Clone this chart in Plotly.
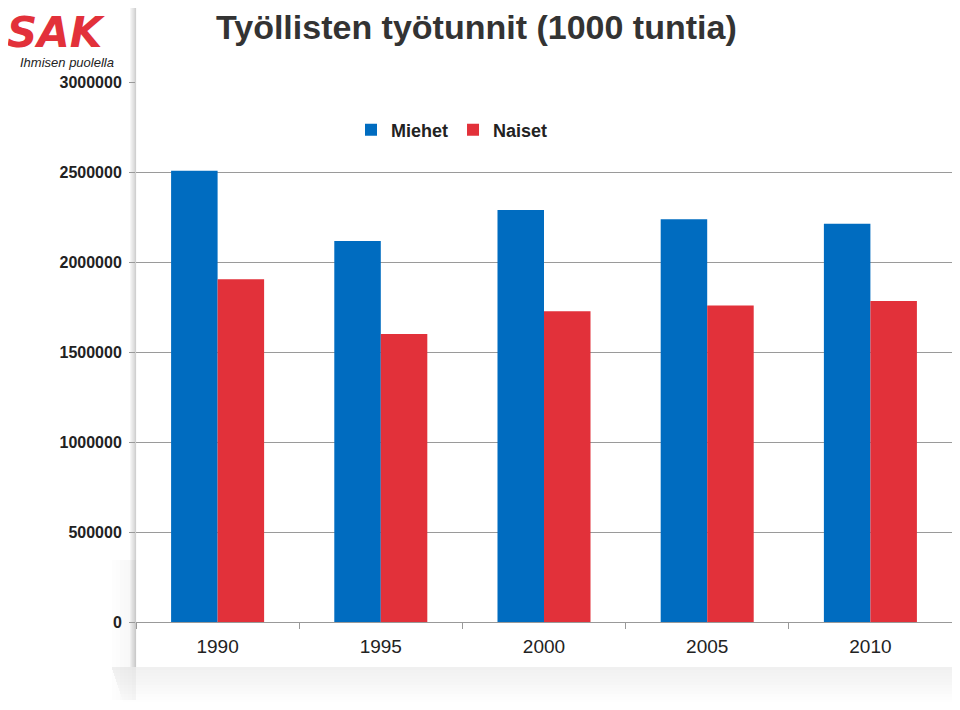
import plotly.graph_objects as go

years = ["1990", "1995", "2000", "2005", "2010"]
miehet = [2507000, 2117000, 2289000, 2237000, 2213000]
naiset = [1904000, 1600000, 1726000, 1759000, 1783000]
y_ticks = [0, 500000, 1000000, 1500000, 2000000, 2500000, 3000000]

BLUE = "#006CC0"
RED = "#E2313A"
FONT = "Liberation Sans, Arial, sans-serif"

# page body has an 8px margin; figure sized so the page does not scroll
W, H = 944, 694
L, T, B, R = 128, 74, 80, 0
PW = W - L - R  # plot width in px
PH = H - T - B  # plot height in px


def px(xabs):
    return (xabs - 8 - L) / PW


def py(yabs):
    return (H - B - (yabs - 8)) / PH


fig = go.Figure()
fig.add_trace(go.Bar(name="Miehet", x=years, y=miehet, marker=dict(color=BLUE, line=dict(width=0))))
fig.add_trace(go.Bar(name="Naiset", x=years, y=naiset, marker=dict(color=RED, line=dict(width=0))))

fig.update_layout(
    width=W, height=H,
    margin=dict(l=L, r=R, t=T, b=B, pad=0),
    paper_bgcolor="white", plot_bgcolor="white",
    barmode="group", bargap=0.43, bargroupgap=0,
    font=dict(family=FONT, color="#222"),
    showlegend=True,
    legend=dict(orientation="h", x=px(351), y=py(130), xanchor="left", yanchor="middle",
                font=dict(size=18, color="#222", weight="bold"), itemwidth=30,
                bgcolor="rgba(0,0,0,0)", traceorder="normal"),
    xaxis=dict(type="category", tickson="boundaries", ticks="outside", ticklen=6,
               tickcolor="#999", showline=True, linecolor="#999", linewidth=1,
               tickfont=dict(size=19, color="#222"), ticklabelstandoff=7,
               showgrid=False, zeroline=False),
    yaxis=dict(range=[0, 3000000], tickvals=y_ticks, ticktext=[str(v) for v in y_ticks],
               showgrid=True, gridcolor="#9a9a9a", gridwidth=1, zeroline=False,
               ticks="outside", ticklen=6, tickcolor="#9a9a9a", showline=False,
               tickfont=dict(size=16, color="#222", weight="bold"), ticklabelstandoff=4),
)

# card shadows (bottom and left edges)
for i in range(12):
    fig.add_shape(type="rect", xref="paper", yref="paper",
                  x0=px(112 + i), x1=px(960),
                  y0=py(667 + 3 * (i + 1)), y1=py(667 + 3 * i),
                  fillcolor="rgba(110,110,110,%.3f)" % (0.10 * (1 - i / 12)),
                  line=dict(width=0), layer="below")
for i in range(6):
    fig.add_shape(type="rect", xref="paper", yref="paper",
                  x0=px(136 - 4 * (i + 1)), x1=px(136 - 4 * i),
                  y0=py(700), y1=py(560),
                  fillcolor="rgba(110,110,110,%.3f)" % (0.06 * (1 - i / 6)),
                  line=dict(width=0), layer="below")
for i in range(5):
    fig.add_shape(type="line", xref="paper", yref="paper",
                  x0=px(135.5 - 1.2 * i), x1=px(135.5 - 1.2 * i), y0=py(667), y1=py(0),
                  line=dict(color="rgba(120,120,120,%.3f)" % (0.35 * (1 - i / 5)), width=1.2),
                  layer="below")

fig.add_annotation(text="Työllisten työtunnit (1000 tuntia)", xref="paper", yref="paper",
                   x=px(476.5), y=py(27), xanchor="center", yanchor="middle",
                   showarrow=False, font=dict(size=34, color="#333", family=FONT, weight="bold"))
fig.add_annotation(text="<b><i>SAK</i></b>", xref="paper", yref="paper",
                   x=px(5), y=py(33), xanchor="left", yanchor="middle",
                   showarrow=False,
                   font=dict(size=42, color=RED, family="DejaVu Sans, sans-serif"))
fig.add_annotation(text="Ihmisen puolella", xref="paper", yref="paper",
                   x=px(116), y=py(63), xanchor="right", yanchor="middle",
                   showarrow=False, font=dict(size=13, color="#222", family=FONT, style="italic"))

fig.write_html("out.html")
